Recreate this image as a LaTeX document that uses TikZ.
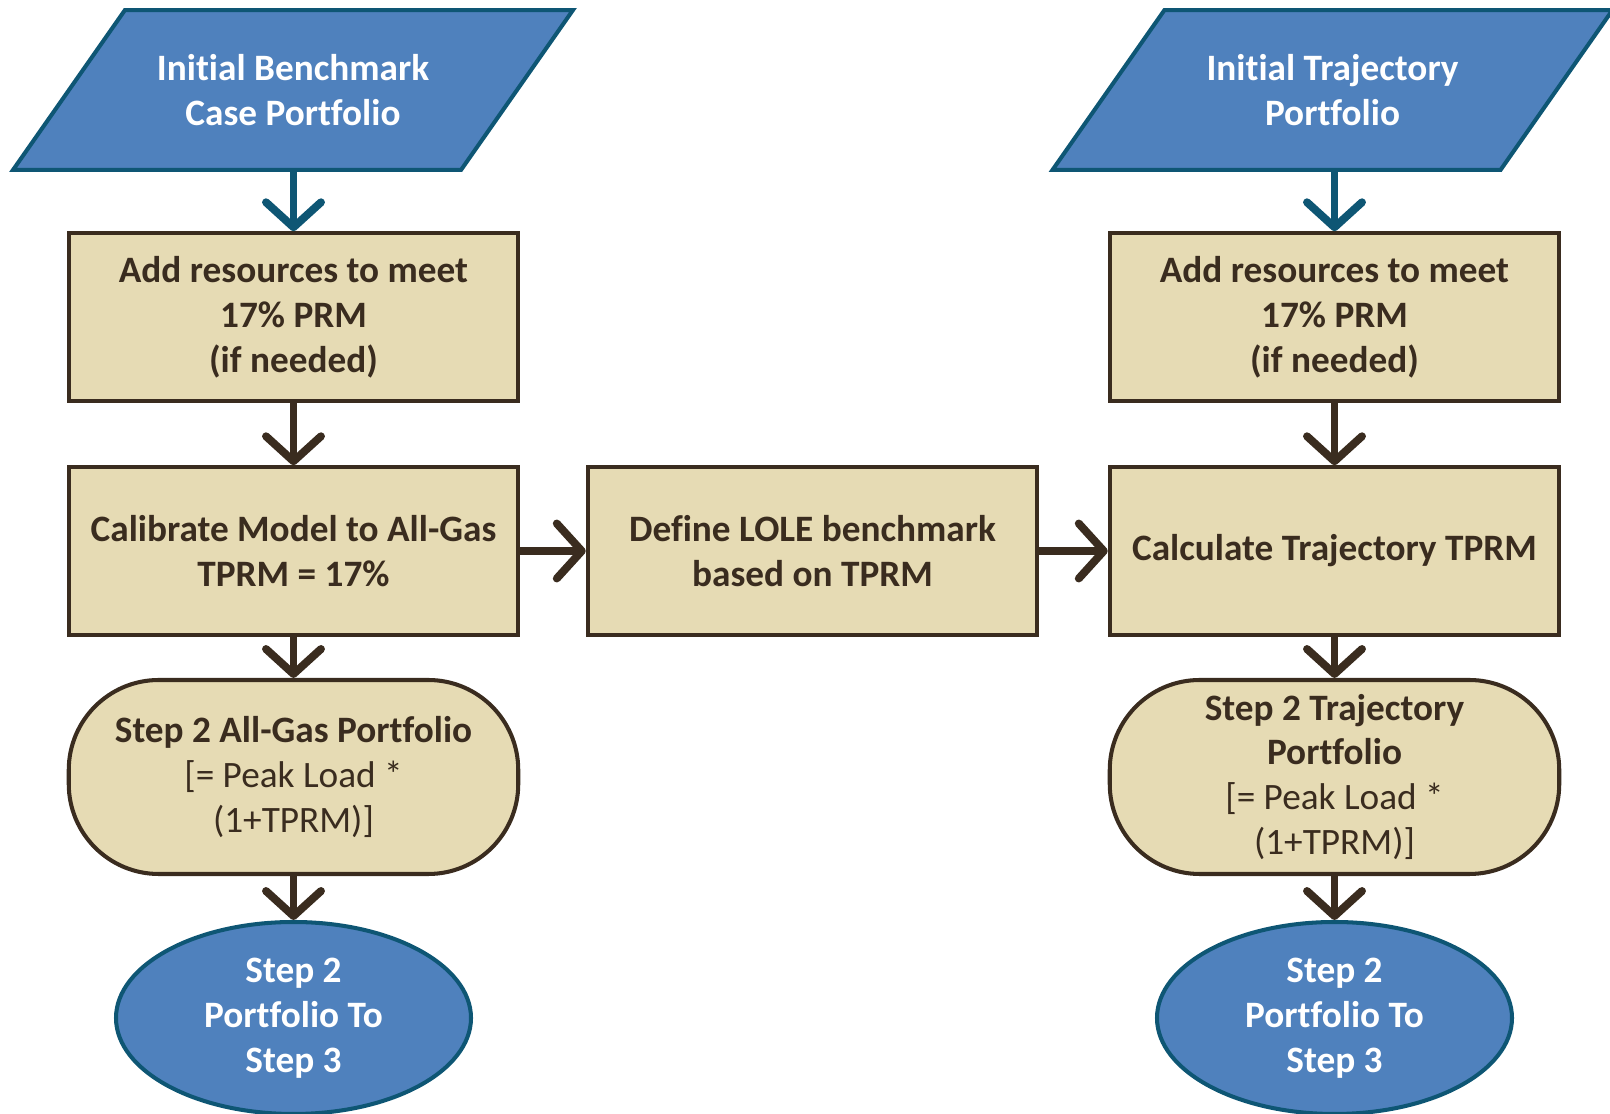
\documentclass[tikz,border=0pt]{standalone}
\usepackage{fontspec}
\setmainfont{Carlito}[Ligatures=NoCommon]
\usetikzlibrary{arrows.meta,shapes.geometric}

\definecolor{inblue}{HTML}{4F81BD}
\definecolor{inedge}{HTML}{0E5674}
\definecolor{tan}{HTML}{E6DBB4}
\definecolor{brown}{HTML}{3A2C1F}

\begin{document}
\begin{tikzpicture}[
  every node/.style={font=\fontsize{21.2}{25.6}\selectfont\bfseries, align=center},
  inbox/.style={trapezium, trapezium left angle=55, trapezium right angle=125,
    trapezium stretches body=true, minimum width=11.2cm, inner ysep=0.885cm,
    draw=inedge, fill=inblue, line width=2.3pt, text=white},
  procbox/.style={rectangle, draw=brown, fill=tan, line width=2.3pt, text=brown,
    minimum width=8.99cm, minimum height=3.35cm},
  stepbox/.style={rectangle, rounded corners=1.8cm, draw=brown, fill=tan, line width=2.3pt,
    text=brown, minimum width=8.99cm, minimum height=3.88cm},
  outbox/.style={ellipse, draw=inedge, fill=inblue, line width=2.3pt, text=white,
    minimum width=7.1cm, minimum height=3.84cm, inner sep=0pt},
  flow/.style={-{Straight Barb[length=0.5cm, width=1.1cm, line cap=round, line join=round]},
    line width=4.5pt, draw=brown},
  inflow/.style={flow, draw=inedge}]
\path[use as bounding box] (0,0) rectangle (32.2,22.28);

\node[inbox] (bench) at (5.86,20.48) {Initial Benchmark\\Case Portfolio};
\node[inbox] (trajin) at (26.65,20.48) {Initial Trajectory\\Portfolio};

\node[procbox] (addA) at (5.87,15.94) {Add resources to meet\\17\% PRM\\(if needed)};
\node[procbox] (addB) at (26.69,15.94) {Add resources to meet\\17\% PRM\\(if needed)};

\node[procbox] (calib) at (5.87,11.26) {Calibrate Model to All-Gas\\TPRM = 17\%};
\node[procbox] (lole) at (16.25,11.26) {Define LOLE benchmark\\based on TPRM};
\node[procbox] (calc) at (26.69,11.26) {Calculate Trajectory TPRM};

\node[stepbox] (gas) at (5.87,6.74) {Step 2 All-Gas Portfolio\\\mdseries[= Peak Load *\\\mdseries(1+TPRM)]};
\node[stepbox] (traj) at (26.69,6.74) {Step 2 Trajectory\\Portfolio\\\mdseries[= Peak Load *\\\mdseries(1+TPRM)]};

\node[outbox] (outA) at (5.87,1.92) {Step 2\\Portfolio To\\Step 3};
\node[outbox] (outB) at (26.69,1.92) {Step 2\\Portfolio To\\Step 3};

\draw[inflow] (bench.south -| addA) -- (addA.north);
\draw[inflow] (trajin.south -| addB) -- (addB.north);
\draw[flow] (addA) -- (calib);
\draw[flow] (addB) -- (calc);
\draw[flow] (calib) -- (lole);
\draw[flow] (lole) -- (calc);
\draw[flow] (calib) -- (gas);
\draw[flow] (calc) -- (traj);
\draw[flow] (gas) -- (outA);
\draw[flow] (traj) -- (outB);
\end{tikzpicture}
\end{document}
